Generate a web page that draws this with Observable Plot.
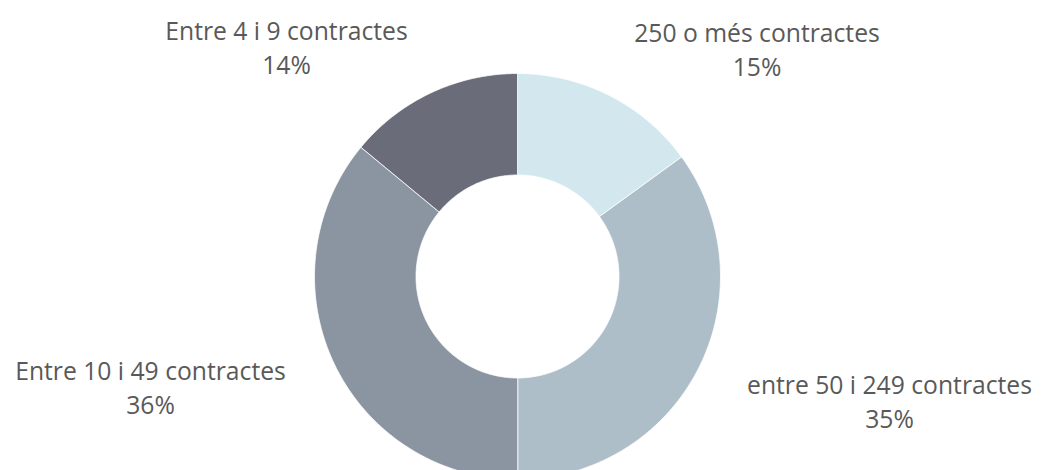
<!DOCTYPE html>
<html>
<head>
<meta charset="utf-8">
<script src="https://cdn.jsdelivr.net/npm/d3@7"></script>
<script src="https://cdn.jsdelivr.net/npm/@observablehq/plot@0.6"></script>
<style>
  html, body { margin: 0; padding: 0; background: #fff; }
  #chart svg { display: block; }
</style>
</head>
<body>
<div id="chart"></div>
<script>
// Data
const categories = ["250 o més contractes", "entre 50 i 249 contractes", "Entre 10 i 49 contractes", "Entre 4 i 9 contractes"];
const shares = [15, 35, 36, 14];
const pctLabels = ["15%", "35%", "36%", "14%"];
const colors = ["#d3e8ee", "#adbec8", "#8b95a1", "#6b6c79"];

// Layout (pixels)
const W = 1048, H = 470;
const cx = 517, cy = 276, R = 203, innerFrac = 0.5;
// label anchor: center x, baseline of last line
const labelAnchor = [[756.5, 75], [889, 427], [150, 413], [286, 73]];

const pie = d3.pie().sort(null).value(d => d.v)(shares.map((v, i) => ({v, i})));
const pts = [];
pie.forEach(s => {
  const cat = categories[s.data.i];
  const n = Math.max(8, Math.ceil((s.endAngle - s.startAngle) * 80));
  for (let k = 0; k <= n; k++) {
    const a = s.startAngle + (s.endAngle - s.startAngle) * k / n;
    pts.push({cat, x: Math.sin(a), y: Math.cos(a)});
  }
  for (let k = n; k >= 0; k--) {
    const a = s.startAngle + (s.endAngle - s.startAngle) * k / n;
    pts.push({cat, x: innerFrac * Math.sin(a), y: innerFrac * Math.cos(a)});
  }
});

const labels = categories.map((c, i) => ({
  cat: c,
  text: c + "\n" + pctLabels[i],
  x: (labelAnchor[i][0] - cx) / R,
  y: (cy - labelAnchor[i][1]) / R
}));

const chart = Plot.plot({
  width: W, height: H,
  margin: 0,
  style: {fontFamily: "'Open Sans', sans-serif", background: "#fff"},
  x: {domain: [-1, 1], range: [cx - R, cx + R], axis: null},
  y: {domain: [-1, 1], range: [cy + R, cy - R], axis: null},
  color: {domain: categories, range: colors},
  marks: [
    Plot.line(pts, {x: "x", y: "y", z: "cat", fill: "cat", stroke: "#ffffff", strokeWidth: 0.75, curve: "linear-closed"}),
    Plot.text(labels, {x: "x", y: "y", text: "text", lineAnchor: "bottom", lineHeight: 1.35, fontSize: 24.7, fill: "#595959", textAnchor: "middle"})
  ]
});
document.getElementById("chart").appendChild(chart);
</script>
</body>
</html>
